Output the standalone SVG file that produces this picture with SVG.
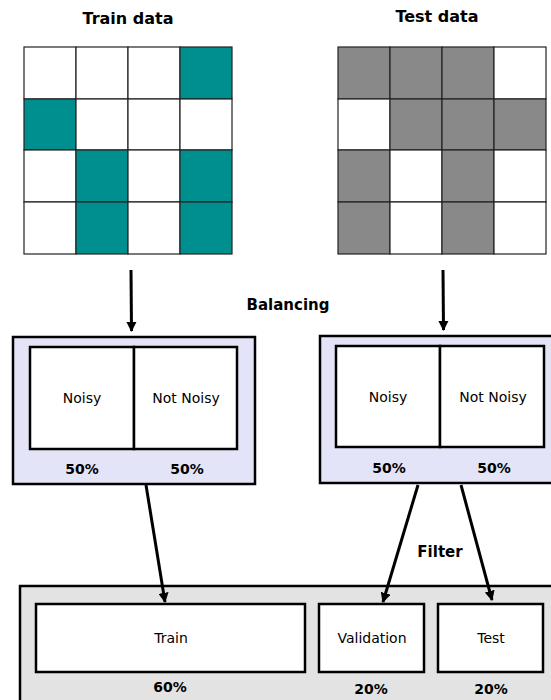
<svg xmlns="http://www.w3.org/2000/svg" width="551" height="700" viewBox="0 0 551 700">
<style>
.t{font-family:"DejaVu Sans",sans-serif;font-size:14px;fill:#000;text-anchor:middle}
.b{font-family:"DejaVu Sans",sans-serif;font-size:14px;font-weight:bold;fill:#000;text-anchor:middle}
.h{font-size:15px}
.ti{font-size:16px}
.c{stroke:#222;stroke-width:1.2}
.w{fill:#fff}
.g{fill:#008f8f}
.k{fill:#898989}
.box{fill:#fff;stroke:#000;stroke-width:2.5}
.lav{fill:#e4e4f8;stroke:#000;stroke-width:2.5}
.gry{fill:#e3e3e3;stroke:#000;stroke-width:2.5}
.e{stroke:#000;stroke-width:3;fill:none}
</style>
<defs>
<marker id="ah" viewBox="0 0 10 10" refX="9" refY="5" markerWidth="3.4" markerHeight="3.4" orient="auto" markerUnits="strokeWidth">
<path d="M0,0 L10,5 L0,10 z" fill="#000"/>
</marker>
</defs>
<rect width="551" height="700" fill="#fff"/>

<g id="train-data">
<text class="b ti" x="128" y="24">Train data</text>
<g class="c">
<rect class="w" x="24" y="47" width="52" height="52"/>
<rect class="w" x="76" y="47" width="52" height="52"/>
<rect class="w" x="128" y="47" width="52" height="52"/>
<rect class="g" x="180" y="47" width="52" height="52"/>
<rect class="g" x="24" y="99" width="52" height="51"/>
<rect class="w" x="76" y="99" width="52" height="51"/>
<rect class="w" x="128" y="99" width="52" height="51"/>
<rect class="w" x="180" y="99" width="52" height="51"/>
<rect class="w" x="24" y="150" width="52" height="52"/>
<rect class="g" x="76" y="150" width="52" height="52"/>
<rect class="w" x="128" y="150" width="52" height="52"/>
<rect class="g" x="180" y="150" width="52" height="52"/>
<rect class="w" x="24" y="202" width="52" height="52"/>
<rect class="g" x="76" y="202" width="52" height="52"/>
<rect class="w" x="128" y="202" width="52" height="52"/>
<rect class="g" x="180" y="202" width="52" height="52"/>
</g>
</g>

<g id="test-data">
<text class="b ti" x="437" y="22">Test data</text>
<g class="c">
<rect class="k" x="338" y="47" width="52" height="52"/>
<rect class="k" x="390" y="47" width="52" height="52"/>
<rect class="k" x="442" y="47" width="52" height="52"/>
<rect class="w" x="494" y="47" width="52" height="52"/>
<rect class="w" x="338" y="99" width="52" height="51"/>
<rect class="k" x="390" y="99" width="52" height="51"/>
<rect class="k" x="442" y="99" width="52" height="51"/>
<rect class="k" x="494" y="99" width="52" height="51"/>
<rect class="k" x="338" y="150" width="52" height="52"/>
<rect class="w" x="390" y="150" width="52" height="52"/>
<rect class="k" x="442" y="150" width="52" height="52"/>
<rect class="w" x="494" y="150" width="52" height="52"/>
<rect class="k" x="338" y="202" width="52" height="52"/>
<rect class="w" x="390" y="202" width="52" height="52"/>
<rect class="k" x="442" y="202" width="52" height="52"/>
<rect class="w" x="494" y="202" width="52" height="52"/>
</g>
</g>

<text class="b h" x="288" y="310">Balancing</text>
<text class="b h" x="440" y="557">Filter</text>

<g id="train-balanced">
<rect class="lav" x="13" y="337" width="242" height="147"/>
<rect class="box" x="30" y="347" width="104" height="102"/>
<rect class="box" x="134" y="347" width="103" height="102"/>
<text class="t" x="82" y="403">Noisy</text>
<text class="t" x="186" y="403">Not Noisy</text>
<text class="b" x="82" y="474">50%</text>
<text class="b" x="187" y="474">50%</text>
</g>

<g id="test-balanced">
<rect class="lav" x="320" y="336" width="240" height="147"/>
<rect class="box" x="336" y="346" width="104" height="101"/>
<rect class="box" x="440" y="346" width="104" height="101"/>
<text class="t" x="388" y="402">Noisy</text>
<text class="t" x="493" y="402">Not Noisy</text>
<text class="b" x="389" y="473">50%</text>
<text class="b" x="494" y="473">50%</text>
</g>

<g id="splits">
<rect class="gry" x="20" y="586" width="545" height="130"/>
<g id="train">
<rect class="box" x="36" y="604" width="269" height="68"/>
<text class="t" x="171" y="643">Train</text>
<text class="b" x="170" y="692">60%</text>
</g>
<g id="validation">
<rect class="box" x="319" y="604" width="105" height="68"/>
<text class="t" x="372" y="643">Validation</text>
<text class="b" x="371" y="694">20%</text>
</g>
<g id="test">
<rect class="box" x="438" y="604" width="105" height="68"/>
<text class="t" x="491" y="643">Test</text>
<text class="b" x="491" y="694">20%</text>
</g>
</g>

<g id="connectors">
<line class="e" x1="131" y1="270" x2="131.5" y2="331" marker-end="url(#ah)"/>
<line class="e" x1="443" y1="270" x2="443.5" y2="330" marker-end="url(#ah)"/>
<line class="e" x1="146" y1="485" x2="165" y2="602" marker-end="url(#ah)"/>
<line class="e" x1="418" y1="485" x2="383" y2="602" marker-end="url(#ah)"/>
<line class="e" x1="461" y1="485" x2="492" y2="600" marker-end="url(#ah)"/>
</g>
</svg>
